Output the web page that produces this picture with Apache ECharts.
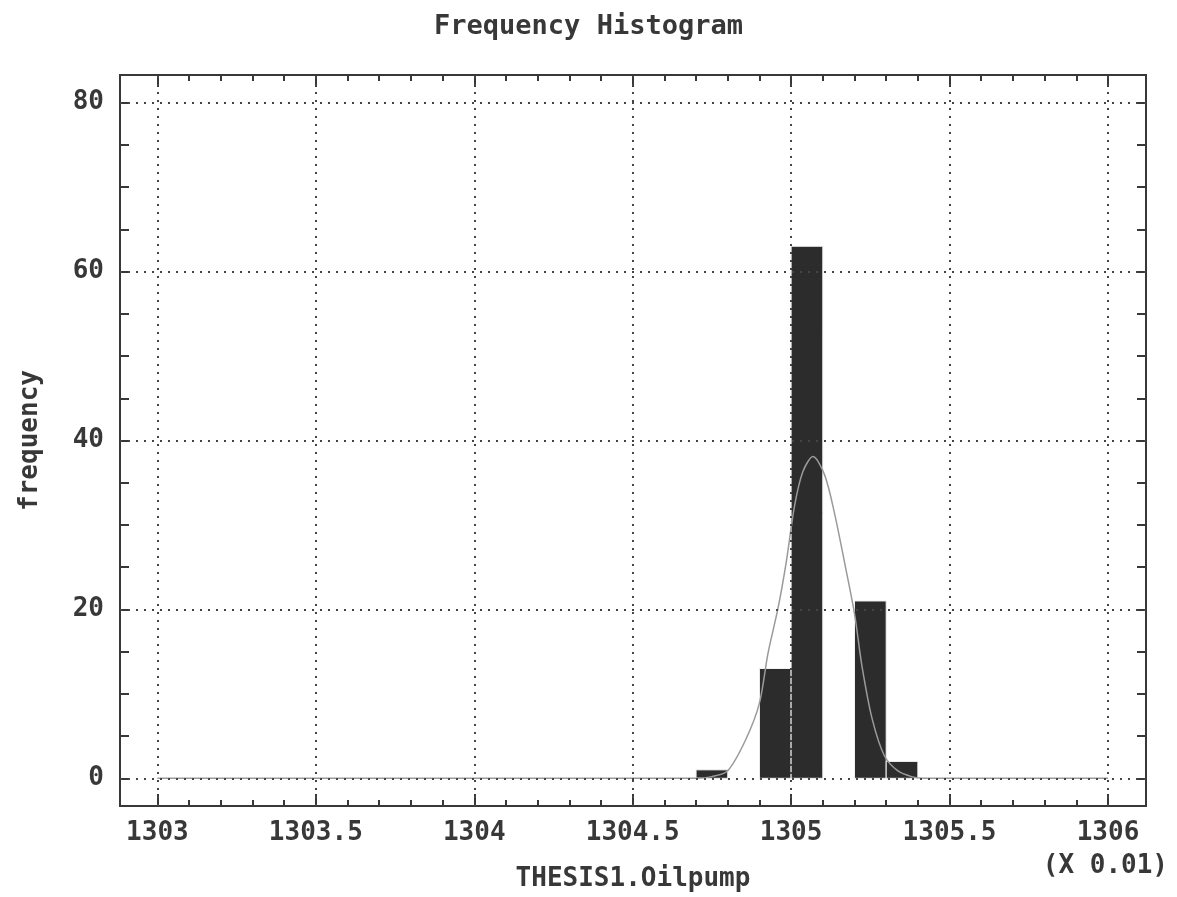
<!DOCTYPE html>
<html>
<head>
<meta charset="utf-8">
<script src="https://cdn.jsdelivr.net/npm/echarts@6/dist/echarts.min.js"></script>
<style>
html, body { margin: 0; background: #fff; }
#main { width: 1177px; height: 897px; }
</style>
</head>
<body>
<div id="main"></div>
<script>
// histogram bins (x 0.01)
var binStarts = [1304.7, 1304.8, 1304.9, 1305.0, 1305.1, 1305.2, 1305.3];
var binCounts = [1, 0, 13, 63, 0, 21, 2];
var binWidth = 0.1;

// fitted curve
var curveX = [1303, 1304.7, 1304.75, 1304.8, 1304.857, 1304.9, 1304.927, 1304.959, 1304.985, 1305.011, 1305.037, 1305.069, 1305.106, 1305.138, 1305.17, 1305.2, 1305.224, 1305.256, 1305.294, 1305.336, 1305.38, 1305.42, 1306];
var curveY = [0, 0, 0.2, 0.9, 4.6, 8.9, 14.8, 20.2, 25.7, 32.3, 36.3, 38.1, 35.9, 31.2, 25.3, 19.5, 13.2, 7.0, 2.7, 0.9, 0.2, 0, 0];

var xTickLabels = [1303, 1303.5, 1304, 1304.5, 1305, 1305.5, 1306];
var yTickLabels = [0, 20, 40, 60, 80];

var xMinorTicks = [];
for (var i = 0; i <= 30; i++) xMinorTicks.push(Math.round((1303 + i / 10) * 10) / 10);
var yMinorTicks = [];
for (var j = 0; j <= 16; j++) yMinorTicks.push(j * 5);

var FONT = 'DejaVu Sans Mono';
var INK = '#383838';
var xMin = 1302.882, xMax = 1306.12;
var yMin = -3.28, yMax = 83.28;

function xAx(pos, ticks, len, labels) {
    return {
        type: 'value', position: pos, min: xMin, max: xMax,
        axisLine: { show: true, onZero: false, lineStyle: { color: INK, width: 2 } },
        axisTick: { show: true, inside: true, length: len, customValues: ticks, lineStyle: { color: INK, width: 2 } },
        axisLabel: labels ? {
            show: true, customValues: labels, margin: 14,
            fontFamily: FONT, fontSize: 26, fontWeight: 'bold', color: INK,
            formatter: function (v) { return String(v); }
        } : { show: false },
        splitLine: { show: false }
    };
}

function yAx(pos, ticks, len, labels) {
    return {
        type: 'value', position: pos, min: yMin, max: yMax,
        axisLine: { show: true, onZero: false, lineStyle: { color: INK, width: 2 } },
        axisTick: { show: true, inside: true, length: len, customValues: ticks, lineStyle: { color: INK, width: 2 } },
        axisLabel: labels ? {
            show: true, customValues: labels, margin: 16,
            fontFamily: FONT, fontSize: 26, fontWeight: 'bold', color: INK
        } : { show: false },
        splitLine: { show: false }
    };
}

var xAxes = [
    xAx('bottom', xMinorTicks, 6, xTickLabels),
    xAx('bottom', xTickLabels, 12, null),
    xAx('top', xMinorTicks, 6, null),
    xAx('top', xTickLabels, 12, null)
];
xAxes[0].name = 'THESIS1.Oilpump';
xAxes[0].nameLocation = 'middle';
xAxes[0].nameGap = 60;
xAxes[0].nameTextStyle = { fontFamily: FONT, fontSize: 26, fontWeight: 'bold', color: INK };

var yAxes = [
    yAx('left', yMinorTicks, 9, yTickLabels),
    yAx('right', yMinorTicks, 9, null)
];
yAxes[0].name = 'frequency';
yAxes[0].nameLocation = 'middle';
yAxes[0].nameGap = 77;
yAxes[0].nameRotate = 90;
yAxes[0].nameTextStyle = { fontFamily: FONT, fontSize: 26, fontWeight: 'bold', color: INK };

var gridDots = { color: '#444', width: 2, type: [2, 6] };
var markData = xTickLabels.map(function (v) { return { xAxis: v }; })
    .concat(yTickLabels.map(function (v) { return { yAxis: v }; }));

var chart = echarts.init(document.getElementById('main'));
chart.setOption({
    backgroundColor: '#fff',
    animation: false,
    title: {
        text: 'Frequency Histogram',
        left: 'center', top: 8,
        textStyle: { fontFamily: FONT, fontSize: 27, fontWeight: 'bold', color: INK }
    },
    grid: { left: 120, right: 31, top: 75, bottom: 90, show: false },
    graphic: [{
        type: 'text', right: 9, top: 853,
        style: { text: '(X 0.01)', fontFamily: FONT, fontSize: 26, fontWeight: 'bold', fill: INK }
    }],
    xAxis: xAxes,
    yAxis: yAxes,
    series: [{
        type: 'line', data: [], z: 1, silent: true,
        markLine: {
            silent: true, symbol: 'none', animation: false,
            label: { show: false },
            lineStyle: gridDots,
            data: markData
        }
    }, {
        type: 'custom', z: 2, silent: true,
        data: binStarts.map(function (s, k) { return [s, binCounts[k]]; }),
        renderItem: function (params, api) {
            var x0 = api.value(0), c = api.value(1);
            if (!c) return null;
            var p0 = api.coord([x0, c]);
            var p1 = api.coord([x0 + binWidth, 0]);
            return {
                type: 'rect',
                shape: { x: p0[0], y: p0[1], width: p1[0] - p0[0], height: p1[1] - p0[1] },
                style: { fill: '#2c2c2c', stroke: '#f2f2f2', lineWidth: 1 }
            };
        }
    }, {
        type: 'line', z: 3, silent: true, symbol: 'none', smooth: 0.3,
        lineStyle: { color: '#9a9a9a', width: 1.5 },
        data: curveX.map(function (x, k) { return [x, curveY[k]]; })
    }]
});
</script>
</body>
</html>
